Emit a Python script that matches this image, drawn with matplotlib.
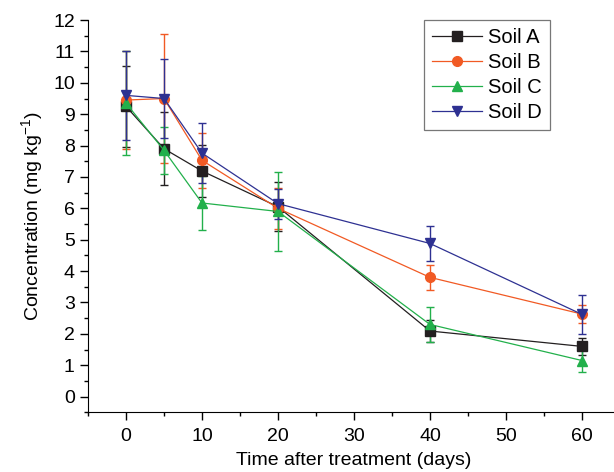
import matplotlib
matplotlib.use("Agg")
import matplotlib.pyplot as plt
from matplotlib.ticker import MultipleLocator
import numpy as np

plt.rcParams["font.family"] = ["Liberation Sans", "DejaVu Sans"]
plt.rcParams["mathtext.fontset"] = "custom"
plt.rcParams["mathtext.rm"] = "Liberation Sans"

days = [0, 5, 10, 20, 40, 60]

soil_a = [9.25, 7.9, 7.19, 6.05, 2.09, 1.6]
soil_a_err = [1.3, 1.17, 0.83, 0.78, 0.35, 0.26]

soil_b = [9.45, 9.5, 7.53, 6.0, 3.8, 2.63]
soil_b_err = [1.55, 2.05, 0.87, 0.65, 0.4, 0.29]

soil_c = [9.35, 7.85, 6.17, 5.9, 2.3, 1.15]
soil_c_err = [1.65, 0.75, 0.87, 1.25, 0.56, 0.38]

soil_d = [9.6, 9.5, 7.76, 6.15, 4.88, 2.62]
soil_d_err = [1.42, 1.27, 0.95, 0.48, 0.55, 0.63]

series = [
    ("Soil A", soil_a, soil_a_err, "#231f20", "s"),
    ("Soil B", soil_b, soil_b_err, "#f15a24", "o"),
    ("Soil C", soil_c, soil_c_err, "#22b04b", "^"),
    ("Soil D", soil_d, soil_d_err, "#2e3192", "v"),
]

fig = plt.figure(figsize=(6.14, 4.72), dpi=100)
ax = fig.add_axes([0.1433, 0.1265, 0.8664, 0.831])

handles = []
for name, vals, errs, color, marker in series:
    cont = ax.errorbar(days, vals, yerr=errs, color=color, marker=marker,
                       markersize=7, lw=0.9, elinewidth=1.0, capsize=3,
                       capthick=1.0, label=name)
    handles.append(cont[0])

ax.set_xlim(-5, 65)
ax.set_ylim(-0.5, 12)
ax.xaxis.set_major_locator(MultipleLocator(10))
ax.xaxis.set_minor_locator(MultipleLocator(5))
ax.yaxis.set_major_locator(MultipleLocator(1))
ax.yaxis.set_minor_locator(MultipleLocator(0.5))
ax.spines["top"].set_visible(False)
ax.spines["right"].set_visible(False)
ax.tick_params(which="major", direction="out", length=6, width=1, labelsize=14)
ax.tick_params(axis="x", which="major", pad=5)
ax.tick_params(which="minor", direction="out", length=3, width=1)

ax.set_xlabel("Time after treatment (days)", fontsize=14, labelpad=5)
ax.set_ylabel("Concentration (mg kg$^{-1}$)", fontsize=14, labelpad=5)

leg = ax.legend(handles, [s[0] for s in series], loc="upper left",
                bbox_to_anchor=(0.631, 1.0), fontsize=14.5,
                frameon=True, fancybox=False, edgecolor="#555555",
                handlelength=2.5, borderpad=0.4, labelspacing=0.3,
                handletextpad=0.3, borderaxespad=0.0)
leg.get_frame().set_linewidth(0.9)

fig.savefig("out.png", dpi=100)
